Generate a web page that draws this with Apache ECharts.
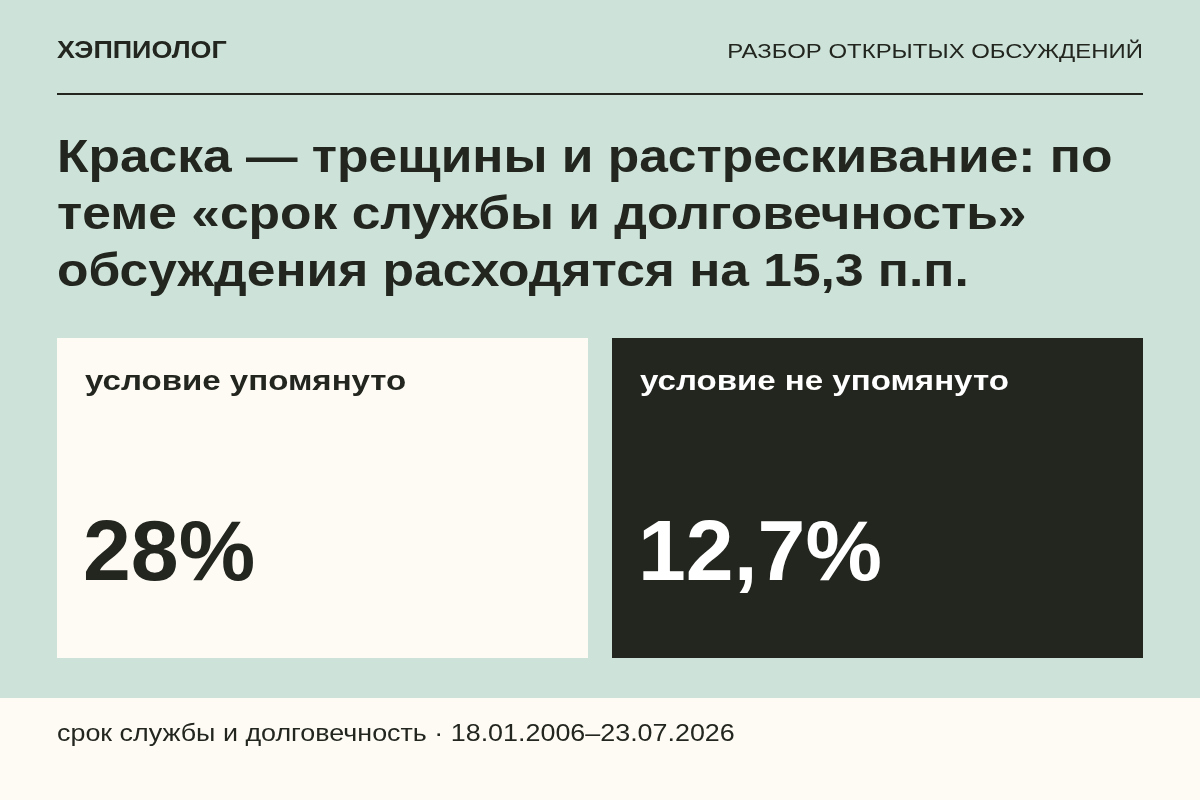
<!DOCTYPE html>
<html><head><meta charset="utf-8">
<script src="https://cdn.jsdelivr.net/npm/echarts@6/dist/echarts.min.js"></script>
<style>html,body{margin:0;padding:0;background:#cde3da}#chart{width:1200px;height:800px}</style>
</head><body><div id="chart"></div>
<script>
// данные
var brand = "ХЭППИОЛОГ";
var section = "РАЗБОР ОТКРЫТЫХ ОБСУЖДЕНИЙ";
var titleLines = ["Краска — трещины и растрескивание: по", "теме «срок службы и долговечность»", "обсуждения расходятся на 15,3 п.п."];
var categories = ["условие упомянуто", "условие не упомянуто"];
var values = [28, 12.7];
var footer = "срок службы и долговечность · 18.01.2006–23.07.2026";

var font = "'Liberation Sans', Arial, sans-serif";
var ink = "#22261f", paper = "#fdfbf3";
function fmt(v){ return String(v).replace(".", ",") + "%"; }

var g = [
  {type:"rect", shape:{x:0,y:698,width:1200,height:102}, style:{fill:paper}},
  {type:"text", x:57, y:52, scaleX:1.17, style:{text:brand, font:"bold 23px "+font, fill:ink, textVerticalAlign:"middle"}},
  {type:"text", x:1143, y:52, scaleX:1.14, style:{text:section, font:"21px "+font, fill:ink, textAlign:"right", textVerticalAlign:"middle"}},
  {type:"rect", shape:{x:57,y:93,width:1086,height:2}, style:{fill:ink}},
  {type:"text", x:57, y:734, scaleX:1.12, style:{text:footer, font:"24px "+font, fill:ink, textVerticalAlign:"middle"}}
];
titleLines.forEach(function(t,i){
  g.push({type:"text", x:57, y:159+i*57, scaleX:1.12, style:{text:t, font:"bold 46px "+font, fill:ink, textVerticalAlign:"middle"}});
});
values.forEach(function(v,i){
  var x = 57 + i*555, dark = i==1;
  g.push({type:"rect", shape:{x:x,y:338,width:531,height:320}, style:{fill:dark?ink:paper}});
  g.push({type:"text", x:x+28, y:382, scaleX:1.18, style:{text:categories[i], font:"bold 28px "+font, fill:dark?"#fff":ink, textVerticalAlign:"middle"}});
  g.push({type:"text", x:x+26, y:556, style:{text:fmt(v), font:"bold 86px "+font, fill:dark?"#fff":ink, textVerticalAlign:"middle"}});
});

var chart = echarts.init(document.getElementById("chart"));
chart.setOption({backgroundColor:"#cde3da", graphic:g});
</script></body></html>
